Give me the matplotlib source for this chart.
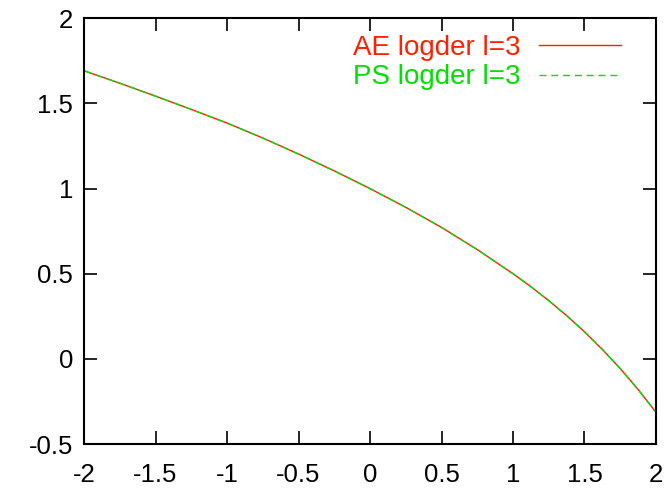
import numpy as np
import matplotlib.pyplot as plt

# valores
x = [-2.0, -1.75, -1.5, -1.25, -1.0, -0.75, -0.5, -0.25, 0.0,
     0.25, 0.5, 0.75, 1.0, 1.125, 1.25, 1.375, 1.5, 1.625, 1.75, 1.875, 2.0]
ae = [1.692, 1.619, 1.543, 1.465, 1.385, 1.297, 1.203, 1.104, 1.000,
      0.890, 0.772, 0.642, 0.500, 0.424, 0.342, 0.254, 0.159, 0.055,
      -0.057, -0.180, -0.314]
ps = list(ae)

xticks = [-2, -1.5, -1, -0.5, 0, 0.5, 1, 1.5, 2]
yticks = [-0.5, 0, 0.5, 1, 1.5, 2]

plt.rcParams['font.family'] = ['Liberation Sans', 'DejaVu Sans']

fig = plt.figure(figsize=(6.7, 4.91), dpi=100)
ax = fig.add_axes([0.1254, 0.0957, 0.8537, 0.8670])

ax.plot(x, ae, color='#ff2000', lw=1.0, label='AE logder l=3')
ax.plot(x, ps, color='#00e000', lw=1.0, ls=(0, (5, 3.5)), label='PS logder l=3')

ax.set_xlim(-2, 2)
ax.set_ylim(-0.5, 2)
ax.set_xticks(xticks)
ax.set_yticks(yticks)
ax.set_xticklabels(['%g' % t for t in xticks])
ax.set_yticklabels(['%g' % t for t in yticks])
ax.tick_params(direction='in', length=9.5, width=1.2, top=True, right=True,
               labelsize=18.5)
ax.tick_params(axis='x', pad=14)
ax.tick_params(axis='y', pad=8)
for s in ax.spines.values():
    s.set_linewidth(1.5)

leg = ax.legend(loc='upper right', bbox_to_anchor=(0.958, 0.988), frameon=False,
                markerfirst=False, fontsize=20, handlelength=2.95,
                handletextpad=0.65, labelspacing=0.14, borderaxespad=0)
for txt, line in zip(leg.get_texts(), leg.get_lines()):
    txt.set_color(line.get_color())

fig.savefig('out.png', dpi=100)
